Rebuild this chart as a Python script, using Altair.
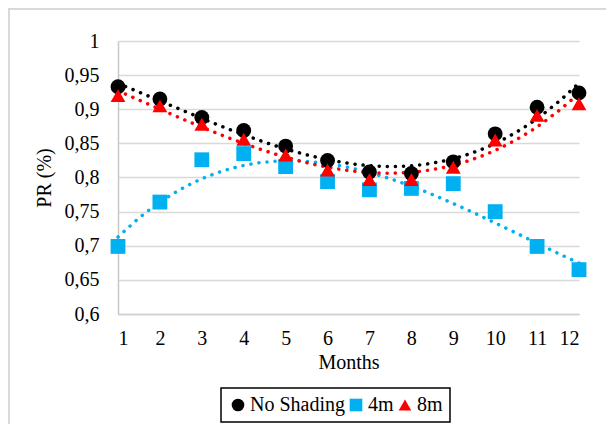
import altair as alt
import pandas as pd

months = list(range(1, 13))
series_names = ["No Shading", "4m", "8m"]
no_shading = [0.933, 0.915, 0.888, 0.869, 0.846, 0.825, 0.808, 0.806, 0.823, 0.864, 0.903, 0.924]
shade_4m = [0.699, 0.764, 0.826, 0.835, 0.816, 0.794, 0.782, 0.784, 0.791, 0.750, 0.699, 0.665]
shade_8m = [0.920, 0.905, 0.878, 0.856, 0.833, 0.811, 0.797, 0.797, 0.815, 0.855, 0.891, 0.908]
y_ticks = [0.6, 0.65, 0.7, 0.75, 0.8, 0.85, 0.9, 0.95, 1.0]
colors = ["#000000", "#00B0F0", "#FF0000"]
shapes = ["circle", "square", "triangle-up"]

rows = []
for name, vals in zip(series_names, [no_shading, shade_4m, shade_8m]):
    for m, v in zip(months, vals):
        rows.append({"Month": m, "PR": v, "Series": name})
df = pd.DataFrame(rows)

FONT = "Liberation Serif"

x_enc = alt.X(
    "Month:Q",
    scale=alt.Scale(domain=[1, 12], nice=False, zero=False),
    axis=alt.Axis(
        values=months, title="Months", grid=False, ticks=False, tickSize=0,
        labelPadding=14, titlePadding=4, domainColor="#d0d0d0", domainWidth=1.5,
    ),
)
y_enc = alt.Y(
    "PR:Q",
    scale=alt.Scale(domain=[0.6, 1.0], nice=False, zero=False),
    axis=alt.Axis(
        values=y_ticks, title="PR (%)", ticks=False, tickSize=0,
        labelExpr="replace(format(datum.value, '.2~f'), '.', ',')",
        labelPadding=19, titlePadding=10, gridColor="#d9d9d9", gridWidth=1.5,
        domainColor="#c8c8c8", domainWidth=1.5,
    ),
)

base = alt.Chart(df)

trends = []
for name, col in zip(series_names, colors):
    trends.append(
        base.transform_filter(alt.datum.Series == name)
        .transform_regression("Month", "PR", method="poly", order=3)
        .mark_line(strokeWidth=3.5, strokeDash=[0.1, 8], strokeCap="round", color=col)
        .encode(x=x_enc, y=y_enc)
    )

legend = alt.Legend(
    title=None, orient="none", legendX=103, legendY=347, direction="horizontal",
    strokeColor="#000000", padding=7, labelFont=FONT,
    labelFontSize=20, labelColor="#000000", symbolSize=160, labelOffset=2,
    columnPadding=1,
)

points = base.mark_point(filled=True, opacity=1, size=220).encode(
    x=x_enc, y=y_enc,
    color=alt.Color("Series:N", scale=alt.Scale(domain=series_names, range=colors), legend=legend),
    shape=alt.Shape("Series:N", scale=alt.Scale(domain=series_names, range=shapes), legend=legend),
)

border_df = pd.DataFrame({"k": [0]})
border_top = alt.Chart(border_df).mark_rule(color="#d9d9d9", strokeWidth=2).encode(
    x=alt.value(-110), x2=alt.value(600), y=alt.value(-32)
)
border_left = alt.Chart(border_df).mark_rule(color="#d9d9d9", strokeWidth=2).encode(
    x=alt.value(-109), y=alt.value(-33), y2=alt.value(500)
)

chart = alt.layer(border_top, border_left, *trends, points).properties(
    width=461, height=273, background="white",
    autosize=alt.AutoSizeParams(type="none"),
    padding={"left": 110, "top": 33, "right": 27, "bottom": 110},
).configure(
    font=FONT,
    style={"guide-label": {"font": FONT, "fontSize": 20, "fill": "#000000"}},
).configure_axis(
    labelFont=FONT, titleFont=FONT, labelFontSize=20, titleFontSize=20,
    labelColor="#000000", titleColor="#000000", titleFontWeight="normal",
).configure_legend(
    strokeWidth=1.5, labelFont=FONT, labelFontSize=20, labelColor="#000000",
).configure_view(stroke=None)

chart.save("out.html", embed_options={"renderer": "svg", "actions": False})
